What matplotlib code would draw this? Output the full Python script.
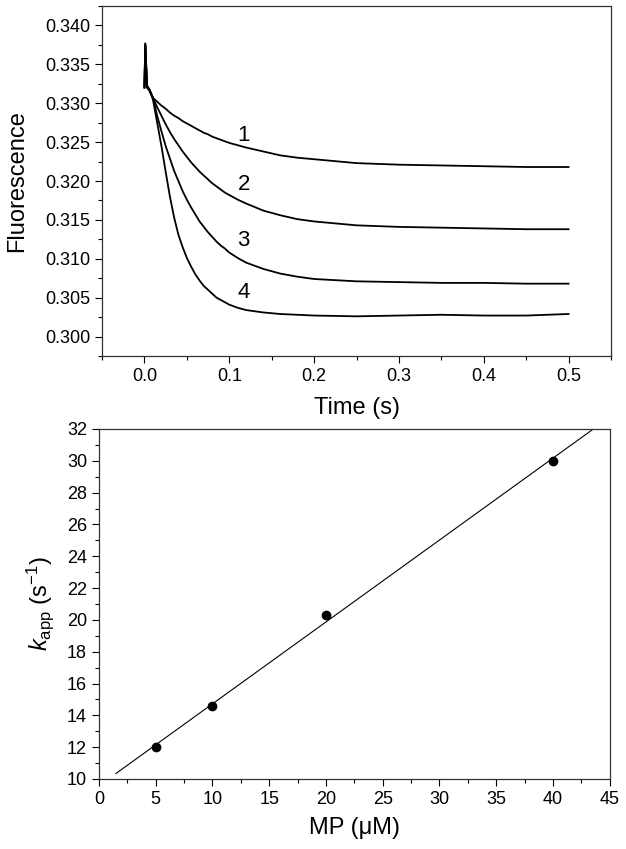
import numpy as np
import matplotlib
matplotlib.use("Agg")
import matplotlib.pyplot as plt
from matplotlib.ticker import MultipleLocator

plt.rcParams["font.family"] = ["Liberation Sans", "DejaVu Sans"]
plt.rcParams["mathtext.fontset"] = "custom"
plt.rcParams["mathtext.rm"] = "Liberation Sans"
plt.rcParams["mathtext.it"] = "Liberation Sans:italic"

# ── Top panel: stopped-flow fluorescence traces ──
time_s = [0.0, 0.001, 0.003, 0.006,
          0.010, 0.015, 0.020, 0.025, 0.030, 0.035, 0.040, 0.045, 0.050,
          0.055, 0.060, 0.065, 0.070, 0.075, 0.080, 0.085, 0.090, 0.095,
          0.100, 0.11, 0.12, 0.14, 0.16, 0.18, 0.20,
          0.25, 0.30, 0.35, 0.40, 0.45, 0.50]
trace_1 = [0.3320, 0.3377, 0.3322, 0.3318,
           0.3307, 0.3302, 0.3297, 0.3293, 0.3288, 0.3284, 0.3281, 0.3277,
           0.3274, 0.3271, 0.3268, 0.3265, 0.3262, 0.3260, 0.3257, 0.3255,
           0.3253, 0.3251, 0.3249, 0.3246, 0.3243, 0.3238, 0.3233, 0.3230,
           0.3228, 0.3223, 0.3221, 0.3220, 0.3219, 0.3218, 0.3218]
trace_2 = [0.3322, 0.3376, 0.3323, 0.3317,
           0.3307, 0.3295, 0.3284, 0.3273, 0.3263, 0.3254, 0.3246, 0.3238,
           0.3231, 0.3224, 0.3218, 0.3212, 0.3207, 0.3202, 0.3197, 0.3193,
           0.3189, 0.3185, 0.3182, 0.3176, 0.3171, 0.3162, 0.3156, 0.3151,
           0.3148, 0.3143, 0.3141, 0.3140, 0.3139, 0.3138, 0.3138]
trace_3 = [0.3321, 0.3375, 0.3321, 0.3316,
           0.3307, 0.3284, 0.3264, 0.3245, 0.3229, 0.3213, 0.3200, 0.3187,
           0.3176, 0.3166, 0.3157, 0.3148, 0.3141, 0.3134, 0.3128, 0.3122,
           0.3117, 0.3113, 0.3108, 0.3101, 0.3095, 0.3087, 0.3081, 0.3077,
           0.3074, 0.3071, 0.3070, 0.3069, 0.3069, 0.3068, 0.3068]
trace_4 = [0.3320, 0.3374, 0.3320, 0.3316,
           0.3305, 0.3275, 0.3245, 0.3212, 0.3180, 0.3153, 0.3131, 0.3115,
           0.3101, 0.3090, 0.3080, 0.3072, 0.3065, 0.3060, 0.3055, 0.3050,
           0.3047, 0.3044, 0.3041, 0.3037, 0.3034, 0.3031, 0.3029, 0.3028,
           0.3027, 0.3026, 0.3027, 0.3028, 0.3027, 0.3027, 0.3029]
trace_labels = ["1", "2", "3", "4"]
label_t = [0.117, 0.117, 0.117, 0.117]
label_y = [0.3259, 0.3196, 0.3124, 0.3057]

# ── Bottom panel: apparent rate constant vs MP concentration ──
mp_uM = [5, 10, 20, 40]
kapp = [12.0, 14.6, 20.3, 30.0]

fig = plt.figure(figsize=(6.26, 8.49), dpi=100)
ax1 = fig.add_axes([0.163, 0.5807, 0.813, 0.4122])
ax2 = fig.add_axes([0.158, 0.0825, 0.816, 0.4122])

for tr in [trace_1, trace_2, trace_3, trace_4]:
    ax1.plot(time_s, tr, color="black", lw=1.3)
for lab, tx, ty in zip(trace_labels, label_t, label_y):
    ax1.text(tx, ty, lab, fontsize=16, ha="center", va="center")

ax1.set_xlim(-0.05, 0.55)
ax1.set_ylim(0.2975, 0.3425)
ax1.xaxis.set_major_locator(MultipleLocator(0.1))
ax1.xaxis.set_minor_locator(MultipleLocator(0.05))
ax1.yaxis.set_major_locator(MultipleLocator(0.005))
ax1.yaxis.set_minor_locator(MultipleLocator(0.0025))
ax1.xaxis.set_major_formatter(plt.FuncFormatter(lambda v, p: f"{v:.1f}"))
ax1.yaxis.set_major_formatter(plt.FuncFormatter(lambda v, p: f"{v:.3f}"))
ax1.set_xlabel("Time (s)", fontsize=17, labelpad=9)
ax1.set_ylabel("Fluorescence", fontsize=17, labelpad=12)

# linear fit of kapp vs [MP]
slope, icpt = np.polyfit(mp_uM, kapp, 1)
x_fit = np.array([1.5, 45.0])
ax2.plot(x_fit, slope * x_fit + icpt, color="black", lw=0.8)
ax2.plot(mp_uM, kapp, "o", color="black", ms=6)

ax2.set_xlim(0, 45)
ax2.set_ylim(10, 32)
ax2.xaxis.set_major_locator(MultipleLocator(5))
ax2.xaxis.set_minor_locator(MultipleLocator(2.5))
ax2.yaxis.set_major_locator(MultipleLocator(2))
ax2.yaxis.set_minor_locator(MultipleLocator(1))
ax2.set_xlabel("MP (\u03bcM)", fontsize=17, labelpad=7)
ax2.set_ylabel(r"$k_{\mathregular{app}}$ (s$^{\mathregular{-1}}$)", fontsize=17,
               labelpad=8)

for ax in (ax1, ax2):
    ax.tick_params(which="both", direction="out", top=False, right=False,
                   labelsize=13, width=0.8)
    ax.tick_params(which="major", length=5)
    ax.tick_params(which="minor", length=3)
    for sp in ax.spines.values():
        sp.set_linewidth(0.9)
        sp.set_color("#333333")

fig.savefig("out.png", dpi=100)
